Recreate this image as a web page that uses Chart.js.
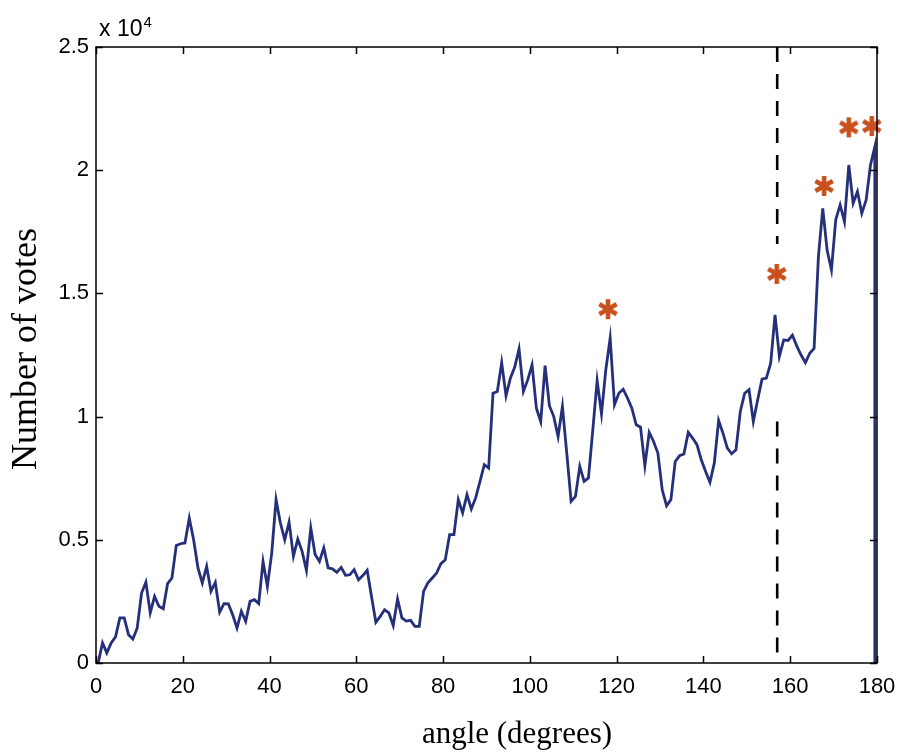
<!DOCTYPE html>
<html><head><meta charset="utf-8">
<script src="https://cdn.jsdelivr.net/npm/chart.js@4.4.0/dist/chart.umd.min.js"></script>
<style>html,body{margin:0;padding:0;background:#fff;overflow:hidden}#wrap{width:897px;height:753px}</style>
</head><body><div id="wrap"><canvas id="c" width="897" height="753"></canvas></div>
<script>
// Number of votes per 1-degree angle bin (bin centres), final point closes the curve to 0
const votes = [
  0,
  815, 410, 815, 1060, 1830, 1830, 1150, 975, 1420, 2840,
  3280, 2030, 2700, 2300, 2200, 3220, 3450, 4770, 4840, 4870,
  5880, 5000, 3860, 3250, 3920, 2910, 3270, 2060, 2410, 2400,
  1960, 1420, 2100, 1690, 2500, 2570, 2410, 4120, 3110, 4460,
  6630, 5680, 5000, 5720, 4330, 5030, 4530, 3760, 5480, 4400,
  4120, 4670, 3860, 3820, 3680, 3880, 3560, 3580, 3790, 3380,
  3550, 3760, 2700, 1650, 1890, 2160, 2030, 1520, 2600, 1830,
  1700, 1730, 1490, 1490, 2910, 3250, 3450, 3650, 4030, 4190,
  5210, 5210, 6630, 6090, 6830, 6250, 6700, 7370, 8050, 7910,
  10950, 11020, 12190, 10840, 11560, 12010, 12750, 11020, 11490, 12100,
  10340, 9800, 12070, 10440, 10000, 9190, 10410, 8520, 6560, 6760,
  7980, 7370, 7510, 9460, 11460, 10110, 11900, 13180, 10480, 10950,
  11110, 10750, 10340, 9670, 9570, 8000, 9360, 8990, 8520, 7030,
  6380, 6630, 8180, 8410, 8480, 9360, 9130, 8860, 8250, 7770,
  7330, 8110, 9840, 9330, 8720, 8490, 8650, 10210, 10950, 11090,
  9800, 10680, 11520, 11560, 12170, 14130, 12440, 13110, 13090, 13300,
  12870, 12500, 12190, 12570, 12770, 16500, 18450, 16760, 15950, 18000,
  18590, 17910, 20210, 18660, 19130, 18250, 18790, 20210, 20950,
  0
];
// bin centres 0.5 ... 179.5, plus the closing point at 179.5
const angles = Array.from({length: 180}, (_, i) => i + 0.5).concat([179.5]);

const starAngles = [118, 156.9, 167.8, 173.5, 178.8];
const starVotes  = [14360, 15790, 19360, 21740, 21790];

const dashAngles = [157, 157, 157, 157, 157];
const dashVotes  = [25000, 17000, null, 9800, 0];

const xTicks = [0, 20, 40, 60, 80, 100, 120, 140, 160, 180];
const yTicks = [0, 5000, 10000, 15000, 20000, 25000];
const yTickLabels = ['0', '0.5', '1', '1.5', '2', '2.5'];

const NAVY = '#26307a';
const ORANGE = '#c8501e';

// six-armed asterisk marker like the reference
function makeAsterisk(size, color, lw) {
  const c = document.createElement('canvas');
  c.width = size; c.height = size;
  const g = c.getContext('2d');
  const r = size / 2 - 1;
  g.strokeStyle = color; g.lineWidth = lw; g.lineCap = 'butt';
  g.translate(size / 2, size / 2);
  g.beginPath();
  for (let k = 0; k < 3; k++) {
    const ang = Math.PI / 2 + k * Math.PI / 3;
    g.moveTo(Math.cos(ang) * r, Math.sin(ang) * r);
    g.lineTo(-Math.cos(ang) * r, -Math.sin(ang) * r);
  }
  g.stroke();
  return c;
}
const asterisk = makeAsterisk(22, ORANGE, 4.6);

const framePlugin = {
  id: 'frame',
  beforeDraw(chart) {
    const ctx = chart.ctx;
    ctx.save();
    ctx.fillStyle = '#fff';
    ctx.fillRect(0, 0, chart.width, chart.height);
    ctx.restore();
  },
  afterDraw(chart) {
    const {ctx, chartArea: a, scales: {x, y}} = chart;
    ctx.save();
    ctx.strokeStyle = '#000';
    ctx.lineWidth = 1.5;
    ctx.strokeRect(a.left, a.top, a.right - a.left, a.bottom - a.top);
    const tl = 7;
    ctx.beginPath();
    xTicks.forEach(v => {
      const px = Math.round(x.getPixelForValue(v)) + 0.5;
      ctx.moveTo(px, a.bottom); ctx.lineTo(px, a.bottom - tl);
      ctx.moveTo(px, a.top); ctx.lineTo(px, a.top + tl);
    });
    yTicks.forEach(v => {
      const py = Math.round(y.getPixelForValue(v)) + 0.5;
      ctx.moveTo(a.left, py); ctx.lineTo(a.left + tl, py);
      ctx.moveTo(a.right, py); ctx.lineTo(a.right - tl, py);
    });
    ctx.stroke();
    // exponent label
    ctx.fillStyle = '#000';
    ctx.textBaseline = 'alphabetic';
    ctx.textAlign = 'left';
    ctx.font = '23px "Liberation Sans", Arial, sans-serif';
    ctx.fillText('x 10', 99, 36);
    const w = ctx.measureText('x 10').width;
    ctx.font = '15px "Liberation Sans", Arial, sans-serif';
    ctx.fillText('4', 99 + w + 1, 27);
    // axis titles
    ctx.font = '31px "Liberation Serif", "Times New Roman", serif';
    ctx.textAlign = 'center';
    ctx.textBaseline = 'middle';
    ctx.fillText('angle (degrees)', 517, 735);
    ctx.translate(27, 349);
    ctx.rotate(-Math.PI / 2);
    ctx.font = '36px "Liberation Serif", "Times New Roman", serif';
    ctx.fillText('Number of votes', 0, 0);
    ctx.restore();
  }
};

new Chart(document.getElementById('c'), {
  type: 'line',
  data: {
    datasets: [
      {
        label: 'threshold',
        data: dashAngles.map((a, i) => ({x: a, y: dashVotes[i]})),
        borderColor: '#000',
        borderWidth: 2.6,
        borderDash: [15, 12],
        pointRadius: 0,
        spanGaps: false,
        clip: false,
        order: 3
      },
      {
        label: 'votes',
        data: angles.map((a, i) => ({x: a, y: votes[i]})),
        borderColor: NAVY,
        borderWidth: 2.8,
        pointRadius: 0,
        tension: 0,
        fill: false,
        order: 2
      },
      {
        label: 'peaks',
        data: starAngles.map((a, i) => ({x: a, y: starVotes[i]})),
        showLine: false,
        pointStyle: asterisk,
        pointRadius: 11,
        borderColor: ORANGE,
        backgroundColor: ORANGE,
        clip: false,
        order: 1
      }
    ]
  },
  options: {
    responsive: false,
    devicePixelRatio: 1,
    animation: false,
    events: [],
    layout: {padding: {top: 47, right: 20, left: 0, bottom: 0}},
    plugins: {legend: {display: false}, tooltip: {enabled: false}},
    scales: {
      x: {
        type: 'linear', min: 0, max: 180,
        afterBuildTicks: s => { s.ticks = xTicks.map(v => ({value: v})); },
        afterFit: s => { s.height = 90; s.paddingLeft = 0; s.paddingRight = 0; },
        grid: {display: false, drawTicks: false},
        border: {display: false},
        ticks: {
          color: '#000', padding: 11, maxRotation: 0, autoSkip: false,
          font: {family: '"Liberation Sans", Arial, sans-serif', size: 22}
        }
      },
      y: {
        type: 'linear', min: 0, max: 25000,
        afterBuildTicks: s => { s.ticks = yTicks.map(v => ({value: v})); },
        afterFit: s => { s.width = 96; s.paddingTop = 0; s.paddingBottom = 0; },
        grid: {display: false, drawTicks: false},
        border: {display: false},
        ticks: {
          color: '#000', padding: 7, autoSkip: false,
          font: {family: '"Liberation Sans", Arial, sans-serif', size: 22},
          callback: v => yTickLabels[yTicks.indexOf(v)]
        }
      }
    }
  },
  plugins: [framePlugin]
});
</script></body></html>
